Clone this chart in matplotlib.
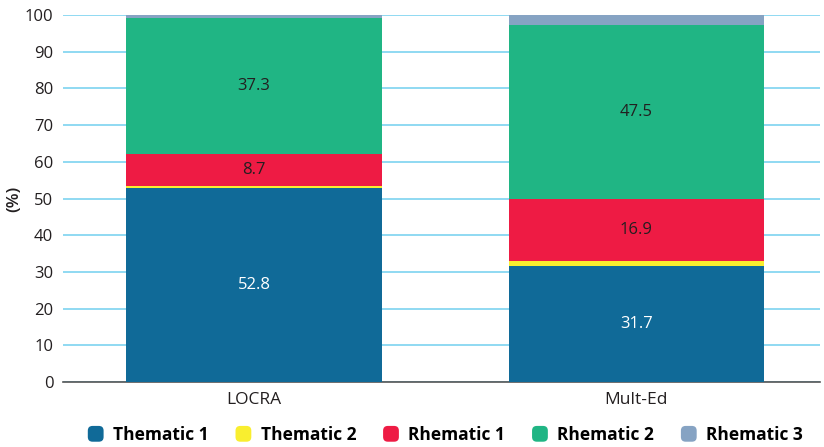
import matplotlib
matplotlib.use("Agg")
import matplotlib.pyplot as plt
from matplotlib.patches import FancyBboxPatch
from matplotlib.legend_handler import HandlerPatch
import numpy as np

plt.rcParams['font.family'] = ['Open Sans', 'DejaVu Sans']

# stacked shares per corpus (%)
corpora = ["LOCRA", "Mult-Ed"]
series = ["Thematic 1", "Thematic 2", "Rhematic 1", "Rhematic 2", "Rhematic 3"]
thematic1 = [52.8, 31.7]
thematic2 = [0.5, 1.2]
rhematic1 = [8.7, 16.9]
rhematic2 = [37.3, 47.5]
rhematic3 = [0.7, 2.7]
colors = ["#106a98", "#f9ee2f", "#ee1b44", "#20b584", "#86a3c3"]
labelled = {0: "white", 2: "#231f20", 3: "#231f20"}
yticks = list(range(0, 101, 10))


class RoundBoxHandler(HandlerPatch):
    def create_artists(self, legend, orig_handle, xdescent, ydescent,
                       width, height, fontsize, trans):
        s = height * 1.3
        p = FancyBboxPatch((-xdescent + (width - s) / 2, -ydescent + (height - s) / 2),
                           s, s, boxstyle="round,pad=0,rounding_size=%f" % (s * 0.3),
                           facecolor=orig_handle.get_facecolor(), edgecolor="none",
                           transform=trans)
        return [p]


fig = plt.figure(figsize=(8.24, 4.47), dpi=100)
ax = fig.add_axes([0.0765, 0.1454, 0.9185, 0.821])

x = np.arange(len(corpora))
width = 0.668
bottom = np.zeros(len(corpora))
handles = []
for i, vals in enumerate([thematic1, thematic2, rhematic1, rhematic2, rhematic3]):
    vals = np.array(vals)
    bars = ax.bar(x, vals, width, bottom=bottom, color=colors[i], label=series[i],
                  linewidth=0, zorder=3)
    handles.append(bars.patches[0])
    if i in labelled:
        for xi, b, v in zip(x, bottom, vals):
            ax.text(xi, b + v / 2, f"{v:.1f}", ha="center", va="center",
                    fontsize=12, color=labelled[i], zorder=4)
    bottom += vals

ax.set_ylim(0, 100)
ax.set_xlim(-0.5, 1.48)
ax.set_yticks(yticks)
ax.set_xticks(x)
ax.set_xticklabels(corpora, fontsize=12.5, color="#231f20")
ax.tick_params(axis="y", length=0, labelsize=12, labelcolor="#231f20", pad=7)
ax.tick_params(axis="x", length=0, pad=7)
ax.yaxis.grid(True, color="#7dd3f0", linewidth=1.2, zorder=0)
for s in ["top", "right", "left"]:
    ax.spines[s].set_visible(False)
ax.spines["bottom"].set_color("#555555")
ax.spines["bottom"].set_linewidth(1.2)
ax.set_ylabel("(%)", fontsize=12.5, color="#231f20", fontweight="semibold", labelpad=2)

fig.legend(handles, series, loc="lower center", bbox_to_anchor=(0.54, -0.028),
           ncol=5, frameon=False, handler_map={h: RoundBoxHandler() for h in handles},
           prop={"weight": "bold", "size": 12.5}, handlelength=1.0, handletextpad=0.5,
           columnspacing=1.5)

fig.savefig("out.png", dpi=100)
